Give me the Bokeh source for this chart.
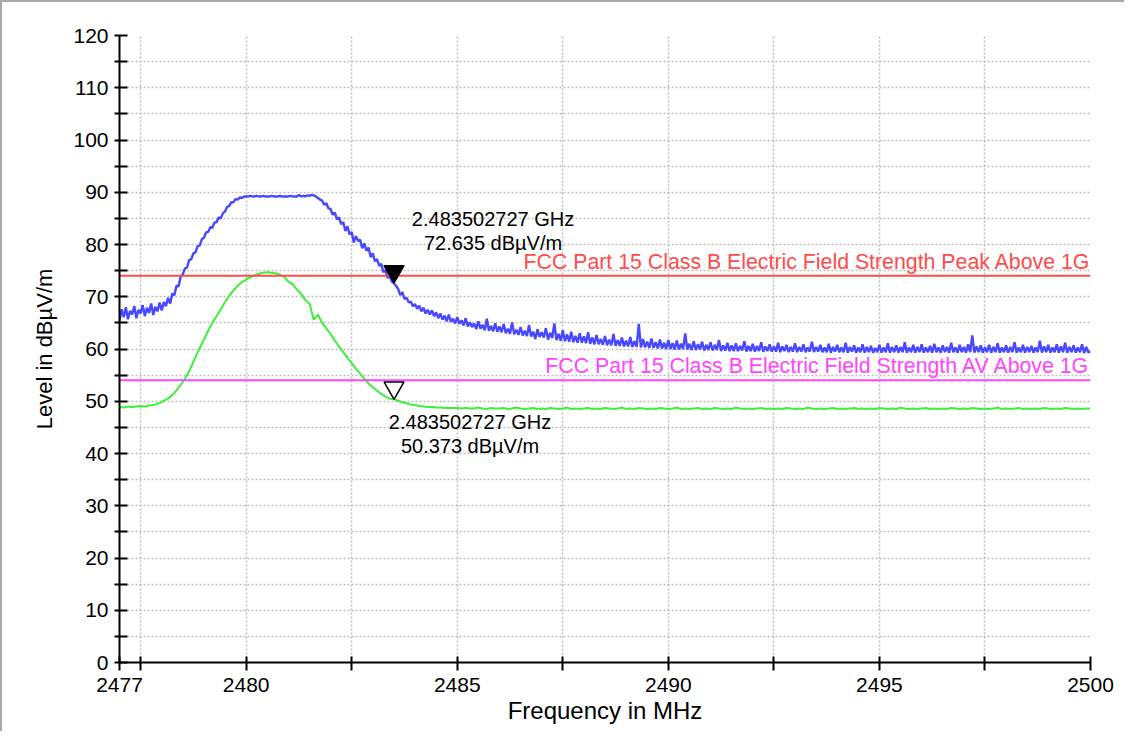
from bokeh.plotting import figure
from bokeh.models import FixedTicker, Range1d
from bokeh.core.properties import value
from bokeh.embed import file_html
from bokeh.resources import INLINE

# ---------------- data ----------------
peak_f_start = 2477.0
peak_f_step = 0.05  # MHz between peak-trace points
peak_trace = [
    65.4, 67.6, 66.1, 68.0, 65.7, 67.3, 66.6, 68.2, 65.9, 67.5,   # 2477.00
    66.8, 68.4, 66.3, 67.9, 66.9, 68.7, 66.5, 68.1, 67.2, 68.9,   # 2477.50
    67.4, 69.0, 68.2, 69.8, 68.7, 70.6, 70.3, 72.1, 72.0, 73.9,   # 2478.00
    74.3, 75.4, 75.6, 77.0, 77.2, 78.3, 78.5, 79.7, 79.8, 81.0,   # 2478.50
    81.3, 82.3, 82.4, 83.3, 83.2, 84.2, 84.3, 85.2, 85.0, 86.0,   # 2479.00
    86.3, 87.2, 87.4, 88.1, 88.1, 88.7, 88.6, 89.0, 88.9, 89.2,   # 2479.50
    89.2, 89.2, 89.3, 89.2, 89.2, 89.3, 89.2, 89.2, 89.3, 89.2,   # 2480.00
    89.2, 89.2, 89.3, 89.2, 89.2, 89.2, 89.3, 89.2, 89.2, 89.2,   # 2480.50
    89.2, 89.3, 89.2, 89.2, 89.2, 89.5, 89.2, 89.3, 89.2, 89.4,   # 2481.00
    89.3, 89.5, 89.4, 89.2, 88.9, 88.6, 88.4, 87.6, 87.9, 86.9,   # 2481.50
    86.8, 85.7, 86.1, 84.8, 85.2, 83.9, 84.3, 82.6, 83.5, 81.9,   # 2482.00
    82.4, 80.4, 81.6, 80.7, 80.9, 79.3, 80.2, 78.8, 79.4, 77.6,   # 2482.50
    78.3, 76.8, 77.2, 75.9, 76.3, 74.7, 75.1, 73.6, 74.0, 72.9,   # 2483.00
    72.6, 72.1, 71.5, 70.3, 70.9, 69.6, 69.8, 68.9, 69.1, 68.2,   # 2483.50
    68.6, 67.7, 68.3, 67.2, 67.9, 66.8, 67.5, 66.6, 67.4, 66.3,   # 2484.00
    67.0, 65.9, 66.8, 65.6, 66.4, 65.3, 66.6, 65.2, 65.8, 64.9,   # 2484.50
    66.1, 64.8, 65.5, 64.5, 65.9, 64.3, 65.1, 64.2, 64.9, 63.8,   # 2485.00
    65.3, 63.9, 64.6, 63.6, 65.8, 63.5, 64.4, 63.4, 64.9, 63.3,   # 2485.50
    64.3, 63.2, 64.8, 63.0, 63.9, 62.9, 65.1, 62.8, 63.7, 62.7,   # 2486.00
    64.2, 62.6, 63.5, 62.5, 64.6, 62.4, 63.3, 61.9, 63.8, 62.3,   # 2486.50
    63.2, 62.2, 64.0, 61.8, 63.1, 62.1, 64.9, 61.7, 62.9, 61.6,   # 2487.00
    63.6, 61.5, 62.8, 61.4, 63.3, 61.3, 62.5, 61.2, 63.0, 61.2,   # 2487.50
    62.4, 61.1, 63.2, 61.0, 62.2, 60.9, 62.7, 60.9, 61.9, 60.8,   # 2488.00
    62.5, 60.7, 61.8, 60.7, 62.9, 60.6, 61.7, 60.6, 62.2, 60.5,   # 2488.50
    61.6, 60.5, 62.3, 60.4, 61.5, 60.4, 64.8, 60.3, 61.9, 60.3,   # 2489.00
    61.4, 60.2, 62.0, 60.2, 61.3, 60.1, 61.8, 60.1, 61.2, 60.0,   # 2489.50
    61.7, 60.0, 61.1, 59.9, 61.6, 59.9, 61.0, 60.0, 63.0, 59.9,   # 2490.00
    61.0, 59.8, 61.5, 59.8, 60.9, 59.9, 61.4, 59.7, 60.8, 59.8,   # 2490.50
    61.3, 59.7, 60.8, 59.8, 61.7, 59.6, 60.7, 59.7, 61.2, 59.6,   # 2491.00
    60.7, 59.6, 61.1, 59.6, 60.6, 59.7, 61.5, 59.5, 60.6, 59.6,   # 2491.50
    61.0, 59.5, 60.6, 59.6, 61.3, 59.5, 60.5, 59.6, 60.9, 59.5,   # 2492.00
    60.5, 59.5, 61.2, 59.4, 60.5, 59.6, 60.8, 59.4, 60.4, 59.5,   # 2492.50
    61.1, 59.4, 60.4, 59.5, 60.9, 59.4, 60.3, 59.5, 61.4, 59.4,   # 2493.00
    60.4, 59.5, 60.8, 59.4, 60.3, 59.4, 61.0, 59.3, 60.4, 59.5,   # 2493.50
    60.8, 59.4, 60.3, 59.4, 61.2, 59.3, 60.4, 59.5, 60.7, 59.3,   # 2494.00
    60.3, 59.4, 60.9, 59.3, 60.4, 59.4, 60.6, 59.3, 60.2, 59.4,   # 2494.50
    60.8, 59.3, 60.3, 59.4, 61.1, 59.3, 60.4, 59.4, 60.7, 59.3,   # 2495.00
    60.4, 59.4, 61.3, 59.3, 60.3, 59.4, 60.8, 59.3, 60.4, 59.4,   # 2495.50
    60.9, 59.3, 60.3, 59.4, 60.6, 59.3, 61.0, 59.4, 60.3, 59.3,   # 2496.00
    60.7, 59.4, 60.4, 59.3, 61.2, 59.4, 60.3, 59.3, 60.8, 59.4,   # 2496.50
    60.4, 59.3, 60.9, 59.4, 62.6, 59.3, 60.5, 59.4, 60.7, 59.3,   # 2497.00
    60.3, 59.4, 60.8, 59.3, 60.4, 59.4, 61.1, 59.3, 60.3, 59.4,   # 2497.50
    60.7, 59.3, 60.4, 59.4, 61.3, 59.3, 60.3, 59.4, 60.8, 59.3,   # 2498.00
    60.4, 59.4, 60.6, 59.3, 60.3, 59.4, 61.6, 59.3, 60.5, 59.4,   # 2498.50
    60.8, 59.3, 60.3, 59.4, 60.9, 59.3, 60.5, 59.4, 61.2, 59.3,   # 2499.00
    60.4, 59.4, 60.7, 59.3, 60.3, 59.4, 60.9, 59.2, 60.4, 59.3,   # 2499.50
    59.6,                                                         # 2500.00
]

avg_f_start = 2477.0
avg_f_step = 0.1  # MHz between average-trace points
avg_trace = [
    48.9, 48.8, 49.0, 48.9, 49.0, 49.1, 49.0, 49.2, 49.3, 49.5,   # 2477
    49.9, 50.3, 50.8, 51.6, 52.6, 53.7, 55.0, 56.6, 58.5, 60.2,   # 2478
    61.8, 63.5, 65.0, 66.3, 67.6, 69.0, 70.2, 71.2, 72.1, 72.8,   # 2479
    73.3, 73.7, 74.1, 74.4, 74.6, 74.7, 74.6, 74.5, 74.2, 73.8,   # 2480
    72.9, 72.4, 71.4, 70.6, 69.4, 68.7, 65.6, 66.6, 65.0, 63.9,   # 2481
    62.9, 61.6, 60.5, 59.4, 58.3, 57.3, 56.2, 55.3, 54.3, 53.4,   # 2482
    52.7, 52.0, 51.4, 50.9, 50.5, 50.4, 50.1, 49.8, 49.6, 49.4,   # 2483
    49.3, 49.1, 49.0, 48.9, 48.9, 48.8, 48.8, 48.7, 48.7, 48.7,   # 2484
    48.7, 48.6, 48.7, 48.6, 48.6, 48.8, 48.6, 48.5, 48.7, 48.6,   # 2485
    48.6, 48.7, 48.5, 48.6, 48.8, 48.6, 48.5, 48.6, 48.7, 48.5,   # 2486
    48.6, 48.5, 48.7, 48.6, 48.5, 48.6, 48.8, 48.5, 48.6, 48.5,   # 2487
    48.6, 48.7, 48.5, 48.6, 48.5, 48.7, 48.6, 48.5, 48.6, 48.8,   # 2488
    48.5, 48.6, 48.5, 48.7, 48.6, 48.5, 48.6, 48.5, 48.7, 48.6,   # 2489
    48.5, 48.6, 48.8, 48.5, 48.6, 48.5, 48.6, 48.7, 48.5, 48.6,   # 2490
    48.5, 48.7, 48.6, 48.5, 48.6, 48.5, 48.8, 48.6, 48.5, 48.6,   # 2491
    48.5, 48.6, 48.7, 48.5, 48.6, 48.5, 48.6, 48.5, 48.7, 48.6,   # 2492
    48.5, 48.6, 48.5, 48.8, 48.6, 48.5, 48.6, 48.5, 48.6, 48.7,   # 2493
    48.5, 48.6, 48.5, 48.6, 48.7, 48.5, 48.6, 48.5, 48.6, 48.5,   # 2494
    48.7, 48.6, 48.5, 48.6, 48.5, 48.8, 48.6, 48.5, 48.6, 48.5,   # 2495
    48.6, 48.7, 48.5, 48.6, 48.5, 48.6, 48.5, 48.7, 48.6, 48.5,   # 2496
    48.6, 48.5, 48.7, 48.6, 48.5, 48.6, 48.5, 48.6, 48.8, 48.5,   # 2497
    48.6, 48.5, 48.6, 48.7, 48.5, 48.6, 48.5, 48.6, 48.5, 48.7,   # 2498
    48.6, 48.5, 48.6, 48.5, 48.7, 48.6, 48.5, 48.6, 48.5, 48.6,   # 2499
    48.6,                                                         # 2500
]

peak_freqs = [round(peak_f_start + i * peak_f_step, 3) for i in range(len(peak_trace))]
avg_freqs = [round(avg_f_start + i * avg_f_step, 3) for i in range(len(avg_trace))]

limit_peak = 74.0
limit_av = 54.0
limit_peak_label = "FCC Part 15 Class B Electric Field Strength Peak Above 1G"
limit_av_label = "FCC Part 15 Class B Electric Field Strength AV Above 1G"

marker_freq = 2483.502727          # MHz
marker_peak_level = 72.635         # dBµV/m
marker_av_level = 50.373           # dBµV/m
marker_freq_text = "2.483502727 GHz"
marker_peak_text = "72.635 dBµV/m"
marker_av_text = "50.373 dBµV/m"

x_title = "Frequency in MHz"
y_title = "Level in dBµV/m"

x_min, x_max = 2477, 2500
y_min, y_max = 0, 120
x_major_ticks = [2477, 2480, 2485, 2490, 2495, 2500]
x_minor_ticks = [2477.5, 2482.5, 2487.5, 2492.5, 2497.5]
x_grid_ticks = [2477.5, 2480, 2482.5, 2485, 2487.5, 2490, 2492.5, 2495, 2497.5, 2500]
y_major_ticks = list(range(0, 121, 10))
y_minor_ticks = list(range(5, 120, 10))
y_grid_ticks = list(range(5, 121, 5))

# ---------------- figure ----------------
FONT = "Liberation Sans"
W, H = 1124, 731
MB_L, MB_R, MB_T, MB_B = 119, 34, 35, 69
frame_h = H - MB_T - MB_B
px_per_db = frame_h / (y_max - y_min)

p = figure(width=W, height=H, output_backend="svg", toolbar_location=None,
           x_range=Range1d(x_min, x_max), y_range=Range1d(y_min, y_max),
           min_border_left=MB_L, min_border_right=MB_R,
           min_border_top=MB_T, min_border_bottom=MB_B)
p.border_fill_color = None
p.background_fill_color = "white"
p.outline_line_color = None
p.styles = {"box-shadow": "inset 2px 2px 0 0 #a9a9a9"}

# grids
p.xgrid.ticker = FixedTicker(ticks=x_grid_ticks)
p.ygrid.ticker = FixedTicker(ticks=y_grid_ticks)
for g in (p.xgrid, p.ygrid):
    g.grid_line_color = "#bcbcbc"
    g.grid_line_dash = "2 2"
    g.grid_line_width = 1.5

# axes
xa = p.xaxis[0]
ya = p.yaxis[0]
xa.ticker = FixedTicker(ticks=x_major_ticks, minor_ticks=x_minor_ticks)
ya.ticker = FixedTicker(ticks=y_major_ticks, minor_ticks=y_minor_ticks)
for ax in (xa, ya):
    ax.axis_line_color = "black"
    ax.axis_line_width = 2
    ax.major_tick_line_color = "black"
    ax.minor_tick_line_color = "black"
    ax.major_tick_line_width = 2
    ax.minor_tick_line_width = 2
    ax.major_label_text_font = FONT
    ax.major_label_text_font_size = "21px"
    ax.major_label_text_color = "black"
    ax.axis_label_text_font = FONT
    ax.axis_label_text_font_style = "normal"
    ax.axis_label_text_color = "black"

xa.major_tick_in = 6
xa.major_tick_out = 8
xa.minor_tick_in = 6
xa.minor_tick_out = 8
xa.major_label_standoff = 7
xa.axis_label = x_title
xa.axis_label_text_font_size = "24px"
xa.axis_label_standoff = 2

ya.major_tick_in = 8
ya.major_tick_out = 5
ya.minor_tick_in = 8
ya.minor_tick_out = 5
ya.major_label_standoff = 6
ya.axis_label = y_title
ya.axis_label_text_font_size = "22px"
ya.axis_label_standoff = 13

# traces
p.line(peak_freqs, peak_trace, line_color="#4848ff", line_width=2.4)
p.line(avg_freqs, avg_trace, line_color="#3cf03c", line_width=2)

# limit lines
p.line([x_min, x_max], [limit_peak, limit_peak], line_color="#ff4a4a", line_width=2)
p.line([x_min, x_max], [limit_av, limit_av], line_color="#ff44ff", line_width=2)

p.text(x=[x_max], y=[limit_peak], text=[limit_peak_label], text_align="right",
       text_baseline="middle", y_offset=-14, text_color="#ff4a4a",
       text_font=value(FONT), text_font_size="21.3px")
p.text(x=[x_max], y=[limit_av], text=[limit_av_label], text_align="right",
       text_baseline="middle", y_offset=-14, text_color="#ff44ff",
       text_font=value(FONT), text_font_size="21.3px")

# markers (tip of the triangle on the measured point)
msize = 20
tip_px = 0.577 * msize
p.scatter([marker_freq], [marker_peak_level + tip_px / px_per_db], marker="inverted_triangle",
          size=msize, fill_color="black", line_color="black", line_width=1.5)
p.scatter([marker_freq], [marker_av_level + tip_px / px_per_db], marker="inverted_triangle",
          size=msize, fill_color="white", line_color="black", line_width=1.5)

# marker readouts
p.text(x=[marker_freq, marker_freq], y=[marker_peak_level, marker_peak_level],
       text=[marker_freq_text, marker_peak_text], x_offset=99, y_offset=[-64, -40],
       text_align="center", text_baseline="middle", text_color="black",
       text_font=value(FONT), text_font_size="20px")
p.text(x=[marker_freq, marker_freq], y=[marker_av_level, marker_av_level],
       text=[marker_freq_text, marker_av_text], x_offset=76, y_offset=[23, 47],
       text_align="center", text_baseline="middle", text_color="black",
       text_font=value(FONT), text_font_size="20px")

open("out.html", "w").write(file_html(p, INLINE))
